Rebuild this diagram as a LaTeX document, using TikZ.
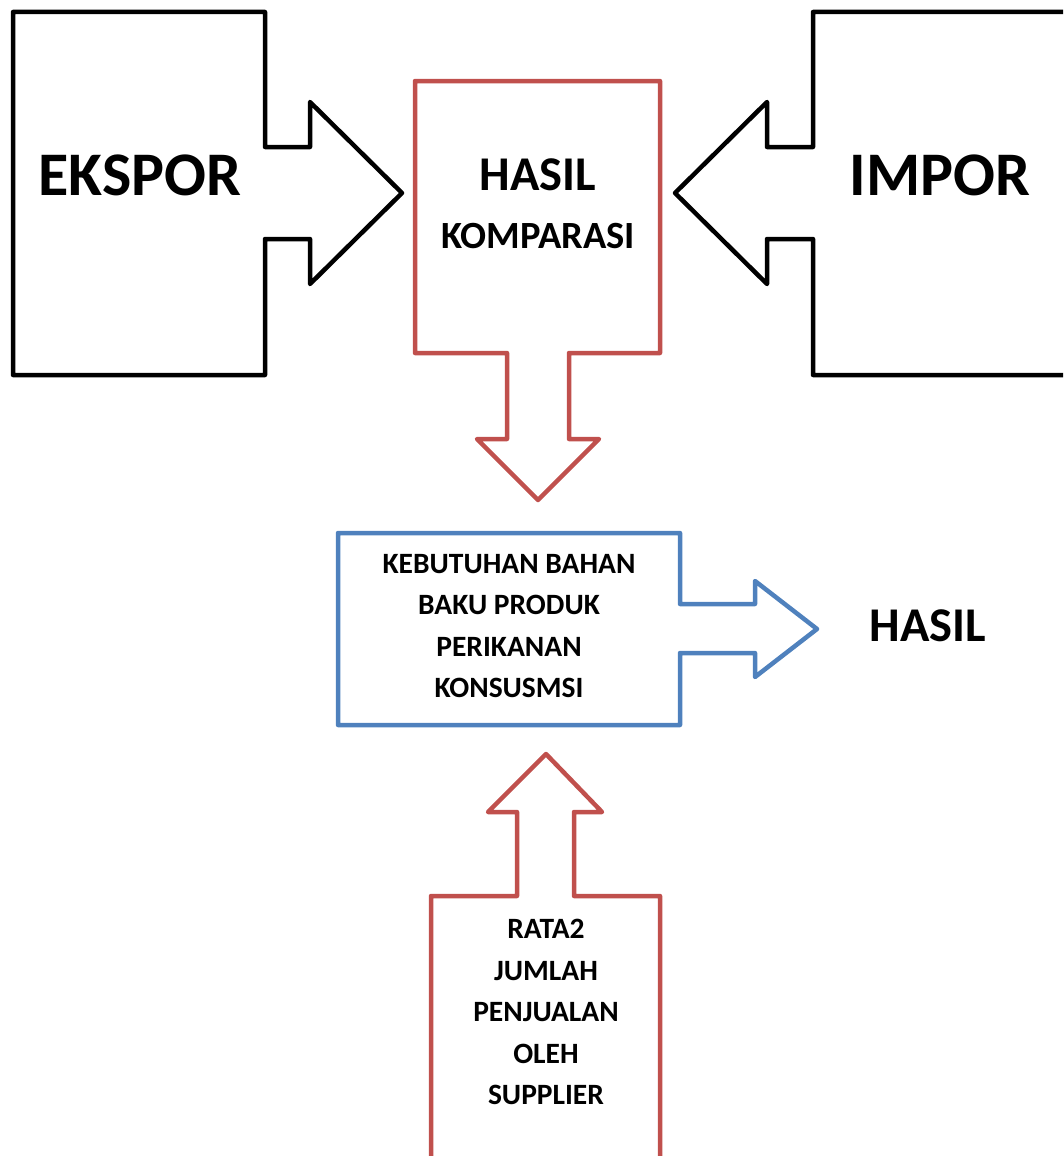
\documentclass[tikz,border=0pt]{standalone}
\usepackage{fontspec}
\setmainfont{Carlito}
\usetikzlibrary{positioning}

\definecolor{boxred}{RGB}{192,80,77}
\definecolor{boxblue}{RGB}{79,129,189}

\begin{document}
\begin{tikzpicture}[x=1pt,y=-1pt,line width=4.5pt,line join=round,
    label/.style={inner sep=0pt,align=center,font=\bfseries},
    bigtext/.style={label,font=\fontsize{62}{62}\selectfont\bfseries},
    midtext/.style={label,font=\fontsize{48.5}{48.5}\selectfont\bfseries},
    smalltext/.style={label,font=\fontsize{29.5}{41.5}\selectfont\bfseries}]
                            \useasboundingbox (0,0) rectangle (1063,1156);
                            \clip (0,0) rectangle (1063,1156);

                            % ekspor: right arrow callout
                            \draw[black] (13,12) -- (265,12) -- (265,147) -- (310,147) -- (310,102)
                                -- (402,193) -- (310,284) -- (310,239) -- (265,239) -- (265,375)
                                -- (13,375) -- cycle;
                            % impor: left arrow callout
                            \draw[black] (1080,12) -- (813,12) -- (813,147) -- (767,147) -- (767,102)
                                -- (675,193) -- (767,284) -- (767,239) -- (813,239) -- (813,375)
                                -- (1080,375);
                            % hasil komparasi: down arrow callout
                            \draw[boxred] (415,81) -- (660,81) -- (660,353) -- (569,353) -- (569,439)
                                -- (599,439) -- (538,500) -- (477,439) -- (507,439) -- (507,353)
                                -- (415,353) -- cycle;
                            % kebutuhan: right arrow callout
                            \draw[boxblue] (338,533) -- (680,533) -- (680,604) -- (755,604) -- (755,581)
                                -- (817,629) -- (755,677) -- (755,653) -- (680,653) -- (680,725)
                                -- (338,725) -- cycle;
                            % rata2: up arrow callout
                            \draw[boxred] (431,1170) -- (431,896) -- (517,896) -- (517,812) -- (488,812)
                                -- (546,754) -- (602,812) -- (574,812) -- (574,896) -- (660,896)
                                -- (660,1170);

                            \node[bigtext]  (ekspor)    at (140,175) {EKSPOR};
                            \node[bigtext]  (impor)     at (940,175) {IMPOR};
                            \node[midtext]  (hasilk)    at (538,175) {HASIL};
                            \node[label,font=\fontsize{38.5}{38.5}\selectfont\bfseries]
                                            (komparasi) at (538,236) {KOMPARASI};
                            \node[smalltext] (kebutuhan) at (509,626)
                                {KEBUTUHAN BAHAN\\BAKU PRODUK\\PERIKANAN\\KONSUSMSI};
                            \node[midtext]  (hasil)     at (928,626) {HASIL};
                            \node[smalltext] (rata)      at (546,1012)
                                {RATA2\\JUMLAH\\PENJUALAN\\OLEH\\SUPPLIER};
                        \end{tikzpicture}
\end{document}
